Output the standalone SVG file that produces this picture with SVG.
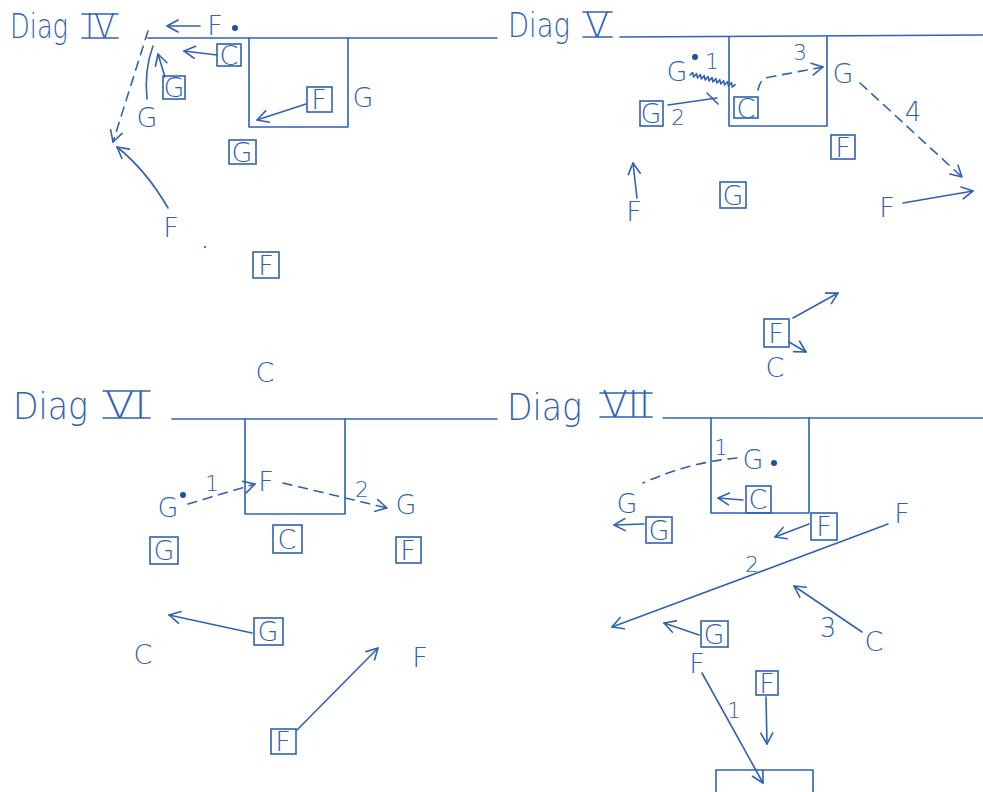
<svg xmlns="http://www.w3.org/2000/svg" width="983" height="792" viewBox="0 0 983 792">
<style>
  .ln{stroke:#2f62b3;stroke-width:1.6;fill:none;stroke-linecap:round;stroke-linejoin:round}
  .ds{stroke-dasharray:9 7}
  .box{stroke:#2f62b3;stroke-width:1.6;fill:none}
  .t{font-family:"DejaVu Sans","Liberation Sans",sans-serif;font-weight:200;font-size:27px;fill:#2f62b3;text-anchor:middle}
  .n{font-family:"DejaVu Sans","Liberation Sans",sans-serif;font-weight:200;font-size:22px;fill:#2f62b3;text-anchor:middle}
  .ti{font-family:"DejaVu Sans","Liberation Sans",sans-serif;font-weight:200;font-size:34px;fill:#2f62b3}
  .ti2{font-family:"DejaVu Sans","Liberation Sans",sans-serif;font-weight:200;font-size:38px;fill:#2f62b3}
  .dot{fill:#1f4f9f}
</style>
<defs>
  <marker id="ah" markerUnits="userSpaceOnUse" markerWidth="16" markerHeight="16" refX="12" refY="8" orient="auto">
    <path d="M1,2 L12,8 L1,14" fill="none" stroke="#2f62b3" stroke-width="1.6" stroke-linecap="round" stroke-linejoin="round"/>
  </marker>
</defs>
<rect width="983" height="792" fill="#ffffff"/>

<!-- ===== Diag IV ===== -->
<g id="diag4">
  <g id="d4-title">
    <text class="ti" x="10" y="38" textLength="58" lengthAdjust="spacingAndGlyphs">Diag</text>
    <text class="ti" x="100" y="38" text-anchor="middle" textLength="30" lengthAdjust="spacingAndGlyphs">IV</text>
    <line class="ln" x1="82" y1="14" x2="118" y2="14"/>
    <line class="ln" x1="82" y1="38" x2="118" y2="38"/>
  </g>
  <g id="d4-field">
    <line class="ln" x1="148" y1="38" x2="497" y2="38"/>
    <path class="ln" d="M249,38 V127 H348 V38"/>
  </g>
  <g id="d4-F1"><text class="t" x="215" y="35">F</text><circle class="dot" cx="235" cy="28" r="3"/></g>
  <g id="d4-C1"><rect class="box" x="217" y="44" width="24" height="22"/><text class="t" x="229" y="65">C</text></g>
  <g id="d4-G1"><rect class="box" x="163" y="76" width="22" height="23"/><text class="t" x="174" y="97">G</text></g>
  <g id="d4-G2"><text class="t" x="147" y="127">G</text></g>
  <g id="d4-F2"><rect class="box" x="307" y="87" width="25" height="25"/><text class="t" x="319" y="109">F</text></g>
  <g id="d4-G3"><text class="t" x="363" y="107">G</text></g>
  <g id="d4-G4"><rect class="box" x="229" y="140" width="27" height="24"/><text class="t" x="242" y="162">G</text></g>
  <g id="d4-F3"><text class="t" x="171" y="237">F</text><circle class="dot" cx="205" cy="247" r="1"/></g>
  <g id="d4-F4"><rect class="box" x="253" y="252" width="26" height="26"/><text class="t" x="266" y="275">F</text></g>
  <g id="d4-connectors">
    <line class="ln" x1="200" y1="26" x2="167" y2="26" marker-end="url(#ah)"/>
    <line class="ln" x1="217" y1="55" x2="184" y2="51" marker-end="url(#ah)"/>
    <line class="ln" x1="165" y1="77" x2="158" y2="54" marker-end="url(#ah)"/>
    <path class="ln" d="M153,46 Q144,70 147,99"/>
    <path class="ln ds" d="M148,31 L113,142" marker-end="url(#ah)"/>
    <line class="ln" x1="306" y1="104" x2="257" y2="120" marker-end="url(#ah)"/>
    <path class="ln" d="M168,208 Q146,170 117,147" marker-end="url(#ah)"/>
  </g>
</g>

<!-- ===== Diag V ===== -->
<g id="diag5">
  <g id="d5-title">
    <text class="ti" x="508" y="37" textLength="62" lengthAdjust="spacingAndGlyphs">Diag</text>
    <text class="ti" x="597" y="37" text-anchor="middle" textLength="24" lengthAdjust="spacingAndGlyphs">V</text>
    <line class="ln" x1="583" y1="12" x2="612" y2="12"/>
    <line class="ln" x1="583" y1="37" x2="612" y2="37"/>
  </g>
  <g id="d5-field">
    <line class="ln" x1="620" y1="37" x2="983" y2="35"/>
    <path class="ln" d="M729,37 V126 H827 V37"/>
  </g>
  <g id="d5-G1"><text class="t" x="677" y="81">G</text><circle class="dot" cx="695" cy="57" r="3"/><text class="n" x="712" y="69">1</text></g>
  <g id="d5-C1"><rect class="box" x="734" y="97" width="24" height="21"/><text class="t" x="746" y="118">C</text></g>
  <g id="d5-G2"><rect class="box" x="640" y="101" width="23" height="25"/><text class="t" x="651" y="123">G</text><text class="n" x="678" y="125">2</text></g>
  <g id="d5-G3"><text class="t" x="843" y="83">G</text></g>
  <g id="d5-F1"><rect class="box" x="831" y="135" width="24" height="24"/><text class="t" x="843" y="157">F</text></g>
  <g id="d5-F2"><text class="t" x="887" y="217">F</text></g>
  <g id="d5-F3"><text class="t" x="634" y="221">F</text></g>
  <g id="d5-G4"><rect class="box" x="720" y="182" width="26" height="26"/><text class="t" x="733" y="205">G</text></g>
  <g id="d5-F4"><rect class="box" x="764" y="319" width="25" height="28"/><text class="t" x="776" y="343">F</text></g>
  <g id="d5-C2"><text class="t" x="775" y="377">C</text></g>
  <g id="d5-connectors">
    <g transform="translate(690,75) rotate(14.6)">
      <path class="ln" stroke-width="1.2" d="M0,0 l2,-3 l2,4 l2,-4 l2,4 l2,-4 l2,4 l2,-4 l2,4 l2,-4 l2,4 l2,-4 l2,4 l2,-4 l2,4 l2,-4 l2,4 l2,-4 l2,4 l2,-4 l2,4 l2,-4 l2,4 l2,-3"/>
    </g>
    <path class="ln ds" d="M758,90 Q760,78 770,77 L823,67" marker-end="url(#ah)"/>
    <text class="n" x="800" y="60">3</text>
    <line class="ln" x1="668" y1="105" x2="717" y2="98"/>
    <line class="ln" x1="707" y1="93" x2="718" y2="104"/>
    <line class="ln ds" x1="860" y1="83" x2="962" y2="177" marker-end="url(#ah)"/>
    <text class="n" x="913" y="121" style="font-size:26px">4</text>
    <line class="ln" x1="903" y1="203" x2="973" y2="191" marker-end="url(#ah)"/>
    <line class="ln" x1="637" y1="198" x2="633" y2="163" marker-end="url(#ah)"/>
    <line class="ln" x1="793" y1="318" x2="838" y2="293" marker-end="url(#ah)"/>
    <line class="ln" x1="789" y1="342" x2="806" y2="352" marker-end="url(#ah)"/>
  </g>
</g>

<!-- ===== Diag VI ===== -->
<g id="diag6">
  <g id="d6-C0"><text class="t" x="265" y="382">C</text></g>
  <g id="d6-title">
    <text class="ti2" x="13" y="419" textLength="75" lengthAdjust="spacingAndGlyphs">Diag</text>
    <text class="ti2" x="126" y="418" text-anchor="middle" textLength="42" lengthAdjust="spacingAndGlyphs">VI</text>
    <line class="ln" x1="103" y1="391" x2="150" y2="391"/>
    <line class="ln" x1="103" y1="418" x2="150" y2="418"/>
  </g>
  <g id="d6-field">
    <line class="ln" x1="172" y1="419" x2="497" y2="419"/>
    <path class="ln" d="M245,419 V514 H345 V419"/>
  </g>
  <g id="d6-G1"><text class="t" x="168" y="517">G</text><circle class="dot" cx="183" cy="495" r="3"/></g>
  <g id="d6-F1"><text class="t" x="266" y="491">F</text></g>
  <g id="d6-G2"><text class="t" x="406" y="514">G</text></g>
  <g id="d6-G3"><rect class="box" x="150" y="537" width="28" height="27"/><text class="t" x="164" y="560">G</text></g>
  <g id="d6-C1"><rect class="box" x="273" y="525" width="29" height="28"/><text class="t" x="287" y="549">C</text></g>
  <g id="d6-F2"><rect class="box" x="396" y="537" width="25" height="26"/><text class="t" x="408" y="560">F</text></g>
  <g id="d6-G4"><rect class="box" x="254" y="618" width="29" height="27"/><text class="t" x="268" y="641">G</text></g>
  <g id="d6-C2"><text class="t" x="143" y="664">C</text></g>
  <g id="d6-F3"><text class="t" x="420" y="667">F</text></g>
  <g id="d6-F4"><rect class="box" x="271" y="729" width="25" height="25"/><text class="t" x="283" y="751">F</text></g>
  <g id="d6-connectors">
    <line class="ln ds" x1="188" y1="504" x2="255" y2="484" marker-end="url(#ah)"/>
    <text class="n" x="212" y="491">1</text>
    <line class="ln ds" x1="283" y1="483" x2="387" y2="508" marker-end="url(#ah)"/>
    <text class="n" x="362" y="497">2</text>
    <line class="ln" x1="252" y1="633" x2="169" y2="615" marker-end="url(#ah)"/>
    <line class="ln" x1="297" y1="730" x2="378" y2="648" marker-end="url(#ah)"/>
  </g>
</g>

<!-- ===== Diag VII ===== -->
<g id="diag7">
  <g id="d7-title">
    <text class="ti2" x="507" y="420" textLength="75" lengthAdjust="spacingAndGlyphs">Diag</text>
    <text class="ti2" x="626" y="417" text-anchor="middle" textLength="48" lengthAdjust="spacingAndGlyphs">VII</text>
    <line class="ln" x1="600" y1="393" x2="652" y2="393"/>
    <line class="ln" x1="600" y1="417" x2="652" y2="417"/>
  </g>
  <g id="d7-field">
    <line class="ln" x1="663" y1="418" x2="983" y2="418"/>
    <path class="ln" d="M711,418 V513 H809 V418"/>
  </g>
  <g id="d7-G1"><text class="t" x="753" y="469">G</text><circle class="dot" cx="774" cy="463" r="3"/></g>
  <g id="d7-G2"><text class="t" x="627" y="513">G</text></g>
  <g id="d7-C1"><rect class="box" x="746" y="486" width="25" height="27"/><text class="t" x="758" y="509">C</text></g>
  <g id="d7-G3"><rect class="box" x="646" y="517" width="26" height="26"/><text class="t" x="659" y="540">G</text></g>
  <g id="d7-F1"><rect class="box" x="811" y="513" width="26" height="27"/><text class="t" x="824" y="536">F</text></g>
  <g id="d7-F2"><text class="t" x="902" y="523">F</text></g>
  <g id="d7-C2"><text class="t" x="874" y="651">C</text></g>
  <g id="d7-G4"><rect class="box" x="701" y="621" width="27" height="26"/><text class="t" x="714" y="644">G</text></g>
  <g id="d7-F3"><text class="t" x="697" y="673">F</text></g>
  <g id="d7-F4"><rect class="box" x="756" y="671" width="22" height="24"/><text class="t" x="767" y="693">F</text></g>
  <g id="d7-goal"><path class="ln" d="M716,792 V770 H813 V792"/></g>
  <g id="d7-connectors">
    <text class="n" x="721" y="455">1</text>
    <path class="ln ds" d="M737,458 Q690,462 643,483"/>
    <line class="ln" x1="743" y1="500" x2="718" y2="498" marker-end="url(#ah)"/>
    <line class="ln" x1="644" y1="524" x2="614" y2="525" marker-end="url(#ah)"/>
    <line class="ln" x1="809" y1="524" x2="775" y2="537" marker-end="url(#ah)"/>
    <line class="ln" x1="888" y1="524" x2="612" y2="627" marker-end="url(#ah)"/>
    <text class="n" x="752" y="572">2</text>
    <line class="ln" x1="862" y1="632" x2="794" y2="586" marker-end="url(#ah)"/>
    <text class="n" x="828" y="637" style="font-size:26px">3</text>
    <line class="ln" x1="699" y1="635" x2="664" y2="623" marker-end="url(#ah)"/>
    <line class="ln" x1="702" y1="673" x2="763" y2="783" marker-end="url(#ah)"/>
    <text class="n" x="734" y="718">1</text>
    <line class="ln" x1="766" y1="697" x2="767" y2="744" marker-end="url(#ah)"/>
  </g>
</g>
</svg>
